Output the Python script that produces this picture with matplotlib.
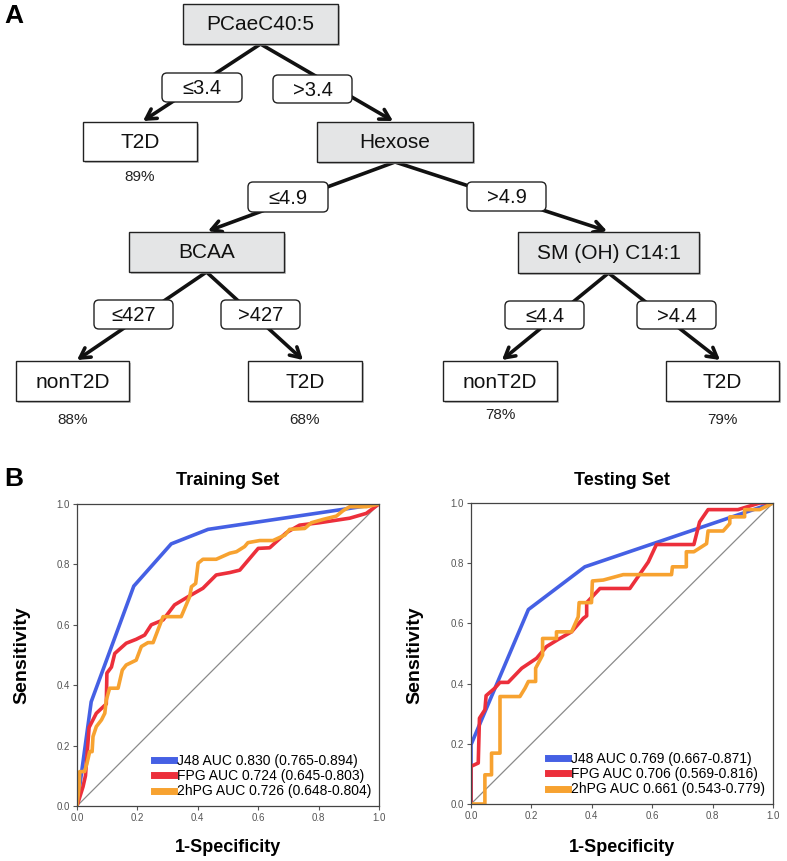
import matplotlib
matplotlib.use("Agg")
import matplotlib.pyplot as plt
import matplotlib.patches as patches

plt.rcParams["font.family"] = ["Liberation Sans", "DejaVu Sans"]

# ---- data: decision tree ----
split_nodes = ["PCaeC40:5", "Hexose", "BCAA", "SM (OH) C14:1"]
leaf_nodes = ["T2D", "nonT2D", "T2D", "nonT2D", "T2D"]
leaf_acc = ["89%", "88%", "68%", "78%", "79%"]
edge_labels = ["≤3.4", ">3.4", "≤4.9", ">4.9", "≤427", ">427", "≤4.4", ">4.4"]

# ---- data: ROC curves (1-specificity, sensitivity) ----
train_j48_x = [0.0, 0.047, 0.188, 0.312, 0.434, 1.0]
train_j48_y = [0.0, 0.345, 0.728, 0.868, 0.916, 1.0]
train_fpg_x = [0.0, 0.02, 0.028, 0.04, 0.064, 0.097, 0.099, 0.114, 0.125, 0.163, 0.196,
               0.224, 0.246, 0.285, 0.323, 0.368, 0.417, 0.461, 0.506, 0.539, 0.6,
               0.638, 0.693, 0.737, 0.803, 0.903, 0.958, 1.0]
train_fpg_y = [0.0, 0.064, 0.1, 0.26, 0.307, 0.338, 0.44, 0.46, 0.505, 0.539, 0.552,
               0.566, 0.6, 0.616, 0.666, 0.693, 0.721, 0.765, 0.773, 0.781, 0.853,
               0.855, 0.905, 0.93, 0.938, 0.953, 0.969, 1.0]
train_2h_x = [0.0, 0.007, 0.009, 0.025, 0.033, 0.042, 0.05, 0.053, 0.064, 0.081, 0.092,
              0.097, 0.108, 0.136, 0.15, 0.163, 0.196, 0.213, 0.235, 0.252, 0.268,
              0.285, 0.345, 0.373, 0.379, 0.393, 0.401, 0.417, 0.461, 0.506, 0.528,
              0.555, 0.566, 0.605, 0.649, 0.688, 0.704, 0.754, 0.776, 0.815, 0.859,
              0.881, 0.903, 0.958, 1.0]
train_2h_y = [0.0, 0.064, 0.114, 0.114, 0.141, 0.18, 0.18, 0.23, 0.263, 0.285, 0.307,
              0.351, 0.39, 0.39, 0.45, 0.467, 0.483, 0.528, 0.541, 0.541, 0.583,
              0.627, 0.627, 0.693, 0.726, 0.737, 0.804, 0.817, 0.817, 0.837, 0.842,
              0.859, 0.872, 0.879, 0.879, 0.897, 0.916, 0.919, 0.938, 0.949, 0.96,
              0.978, 0.991, 0.991, 1.0]

test_j48_x = [0.0, 0.0, 0.19, 0.377, 1.0]
test_j48_y = [0.0, 0.197, 0.646, 0.788, 1.0]
test_fpg_x = [0.0, 0.0, 0.024, 0.028, 0.046, 0.05, 0.079, 0.096, 0.123, 0.168, 0.217,
              0.25, 0.289, 0.333, 0.372, 0.383, 0.383, 0.427, 0.526, 0.587, 0.614,
              0.738, 0.757, 0.785, 0.884, 0.956, 1.0]
test_fpg_y = [0.0, 0.125, 0.136, 0.285, 0.313, 0.36, 0.385, 0.404, 0.404, 0.451, 0.484,
              0.523, 0.547, 0.572, 0.617, 0.625, 0.669, 0.716, 0.716, 0.804, 0.862,
              0.862, 0.937, 0.978, 0.978, 1.0, 1.0]
test_2h_x = [0.0, 0.046, 0.046, 0.068, 0.068, 0.096, 0.096, 0.162, 0.179, 0.19, 0.214,
             0.214, 0.237, 0.237, 0.283, 0.283, 0.333, 0.355, 0.358, 0.399, 0.402,
             0.438, 0.504, 0.664, 0.667, 0.713, 0.713, 0.738, 0.78, 0.785, 0.835,
             0.857, 0.857, 0.906, 0.906, 0.956, 1.0]
test_2h_y = [0.0, 0.0, 0.097, 0.097, 0.169, 0.169, 0.357, 0.357, 0.385, 0.407, 0.407,
             0.451, 0.495, 0.55, 0.55, 0.572, 0.572, 0.622, 0.669, 0.669, 0.741,
             0.744, 0.762, 0.762, 0.788, 0.788, 0.838, 0.838, 0.865, 0.907, 0.907,
             0.932, 0.954, 0.954, 0.978, 0.978, 1.0]

train_labels = ["J48 AUC 0.830 (0.765-0.894)", "FPG AUC 0.724 (0.645-0.803)",
                "2hPG AUC 0.726 (0.648-0.804)"]
test_labels = ["J48 AUC 0.769 (0.667-0.871)", "FPG AUC 0.706 (0.569-0.816)",
               "2hPG AUC 0.661 (0.543-0.779)"]

colors = ["#4560e4", "#ec2f3b", "#f7a230"]

W, H = 787, 861
fig = plt.figure(figsize=(W / 100, H / 100), dpi=100)

# ---- panel A: tree drawn in pixel coordinates ----
ta = fig.add_axes([0, 0, 1, 1])
ta.set_xlim(0, W)
ta.set_ylim(H, 0)
ta.axis("off")

# layout (x0, y0, x1, y1) for each box
split_boxes = [(183, 4, 338, 44), (317, 122, 473, 162), (129, 232, 284, 272), (518, 232, 699, 273)]
leaf_boxes = [(83, 122, 197, 161), (16, 361, 129, 401), (248, 361, 362, 401),
              (443, 361, 557, 401), (666, 361, 779, 401)]
edge_boxes = [(162, 73, 242, 102), (273, 75, 352, 103), (248, 182, 328, 212),
              (467, 182, 546, 211), (94, 300, 173, 329), (221, 300, 300, 329),
              (505, 301, 584, 329), (637, 301, 716, 329)]
# edges: (parent split index, child kind, child index)
edges = [(0, "leaf", 0), (0, "split", 1), (1, "split", 2), (1, "split", 3),
         (2, "leaf", 1), (2, "leaf", 2), (3, "leaf", 3), (3, "leaf", 4)]
tips = [(143, 121), (393, 121), (208, 231), (607, 231), (77, 360), (303, 360),
        (502, 360), (720, 360)]


def draw_box(b, text, fill, fs=15):
    x0, y0, x1, y1 = b
    ta.add_patch(patches.Rectangle((x0 + 2, y0 + 2), x1 - x0, y1 - y0,
                                   facecolor="#9a9a9a", edgecolor="none", alpha=0.6, zorder=3))
    ta.add_patch(patches.Rectangle((x0, y0), x1 - x0, y1 - y0, facecolor=fill,
                                   edgecolor="#222222", lw=1.0, zorder=4))
    ta.text((x0 + x1) / 2, (y0 + y1) / 2 + 1, text, ha="center", va="center",
            fontsize=fs, color="#111111", zorder=5)


for (p, kind, c), tip, lab, eb in zip(edges, tips, edge_labels, edge_boxes):
    px0, py0, px1, py1 = split_boxes[p]
    start = ((px0 + px1) / 2, py1)
    ta.annotate("", xy=tip, xytext=start,
                arrowprops=dict(arrowstyle="->,head_length=0.7,head_width=0.4",
                                lw=2.6, color="#111111", shrinkA=0, shrinkB=0),
                zorder=2)
    x0, y0, x1, y1 = eb
    ta.add_patch(patches.FancyBboxPatch((x0, y0), x1 - x0, y1 - y0,
                                        boxstyle="round,pad=0,rounding_size=5",
                                        facecolor="white", edgecolor="#222222", lw=1.0,
                                        zorder=4))
    ta.text((x0 + x1) / 2, (y0 + y1) / 2 + 1, lab, ha="center", va="center",
            fontsize=14.5, color="#111111", zorder=5)

for b, t in zip(split_boxes, split_nodes):
    draw_box(b, t, "#e4e5e6")
for b, t in zip(leaf_boxes, leaf_nodes):
    draw_box(b, t, "white")

acc_y = [177, 420, 420, 415, 420]
for b, t, y in zip(leaf_boxes, leaf_acc, acc_y):
    ta.text((b[0] + b[2]) / 2, y, t, ha="center", va="center", fontsize=11,
            color="#222222")

ta.text(4, 16, "A", fontsize=19, fontweight="bold", ha="left", va="center")
ta.text(4, 479, "B", fontsize=19, fontweight="bold", ha="left", va="center")


# ---- panel B: ROC curves ----
def roc_panel(rect, title, curves, labels, ylab_x, title_x):
    ax = fig.add_axes(rect)
    ax.plot([0, 1], [0, 1], color="#8a8a8a", lw=0.9, zorder=1)
    for (x, y), lab, col in zip(curves, labels, colors):
        ax.plot(x, y, color=col, lw=2.6, label=lab, zorder=2)
    ax.set_xlim(0, 1)
    ax.set_ylim(0, 1)
    ticks = [0.0, 0.2, 0.4, 0.6, 0.8, 1.0]
    ax.set_xticks(ticks)
    ax.set_yticks(ticks)
    ax.set_xticklabels([f"{t:.1f}" for t in ticks])
    ax.set_yticklabels([f"{t:.1f}" for t in ticks])
    ax.tick_params(labelsize=7, colors="#555555", length=3, width=0.8, pad=2)
    for s in ax.spines.values():
        s.set_color("#444444")
        s.set_linewidth(0.9)
    leg = ax.legend(loc="lower right", frameon=False, fontsize=10, handlelength=1.4,
                    handletextpad=0.25, labelspacing=0.08, borderaxespad=0.15)
    for h in leg.get_lines():
        h.set_linewidth(5)
    fig.text(title_x / W, 1 - 481 / H, title, ha="center", va="center",
             fontsize=13, fontweight="bold")
    fig.text(ylab_x / W, 1 - 655 / H, "Sensitivity", rotation=90, ha="center",
             va="center", fontsize=14, fontweight="bold")
    fig.text(title_x / W, 1 - 848 / H, "1-Specificity", ha="center", va="center",
             fontsize=13, fontweight="bold")
    return ax


roc_panel([77 / W, 1 - 806 / H, 302 / W, 302 / H], "Training Set",
          [(train_j48_x, train_j48_y), (train_fpg_x, train_fpg_y), (train_2h_x, train_2h_y)],
          train_labels, 22, 228)
roc_panel([471 / W, 1 - 804 / H, 302 / W, 301 / H], "Testing Set",
          [(test_j48_x, test_j48_y), (test_fpg_x, test_fpg_y), (test_2h_x, test_2h_y)],
          test_labels, 415, 622)

fig.savefig("out.png", dpi=100)
